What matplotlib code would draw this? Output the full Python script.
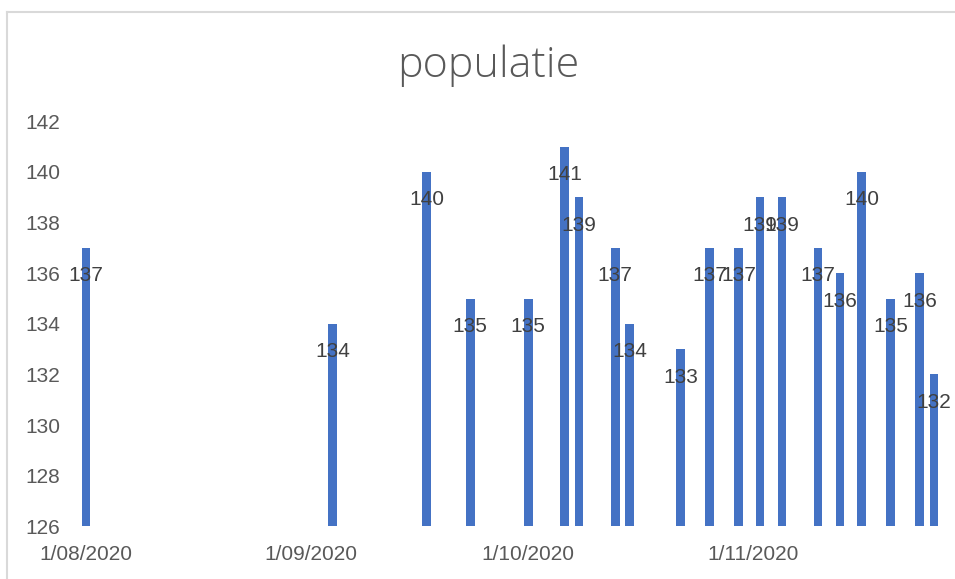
import numpy as np
import pandas as pd
import matplotlib
matplotlib.use("Agg")
import matplotlib.pyplot as plt
import matplotlib.dates as mdates
from matplotlib.lines import Line2D

# data
dates = ["2020-08-01", "2020-09-04", "2020-09-17", "2020-09-23", "2020-10-01",
         "2020-10-06", "2020-10-08", "2020-10-13", "2020-10-15", "2020-10-22",
         "2020-10-26", "2020-10-30", "2020-11-02", "2020-11-05", "2020-11-10",
         "2020-11-13", "2020-11-16", "2020-11-20", "2020-11-24", "2020-11-26"]
populatie = [137, 134, 140, 135, 135, 141, 139, 137, 134, 133,
             137, 137, 139, 139, 137, 136, 140, 135, 136, 132]
tick_dates = ["2020-08-01", "2020-09-01", "2020-10-01", "2020-11-01"]
tick_labels = ["1/08/2020", "1/09/2020", "1/10/2020", "1/11/2020"]
y_ticks = list(range(126, 143, 2))

x = mdates.date2num(pd.to_datetime(dates))
xt = mdates.date2num(pd.to_datetime(tick_dates))

fig = plt.figure(figsize=(9.55, 5.79), dpi=100)
ax = fig.add_axes([0.0691, 0.0907, 0.9204, 0.70])

ax.bar(x, populatie, width=1.2, color='#4472C4')
for xi, v in zip(x, populatie):
    ax.annotate(str(v), (xi, v), xytext=(0, -28), textcoords='offset pixels',
                ha='center', va='center', fontsize=15,
                family='Liberation Sans', color='#404040')

ax.set_xlim(x[0] - 2.76, x[0] + 118.5)
ax.set_ylim(126, 142)
ax.set_yticks(y_ticks)
ax.set_xticks(xt)
ax.set_xticklabels(tick_labels)
for s in ax.spines.values():
    s.set_visible(False)
ax.tick_params(axis='both', length=0, labelsize=15, labelcolor='#595959')
ax.tick_params(axis='x', pad=13)
ax.tick_params(axis='y', pad=4)
for t in ax.get_xticklabels() + ax.get_yticklabels():
    t.set_family('Liberation Sans')

fig.text(488 / 955, (579 - 77) / 579, "populatie", ha='center', va='baseline',
         fontsize=31, family='Open Sans', fontweight='light', color='#595959')

# chart frame (top and left edges)
fig.add_artist(Line2D([7 / 955, 7 / 955], [0, 1 - 12 / 579], color='#d9d9d9', lw=1.5))
fig.add_artist(Line2D([7 / 955, 1], [1 - 12 / 579, 1 - 12 / 579], color='#d9d9d9', lw=1.5))

plt.savefig('out.png', dpi=100)
